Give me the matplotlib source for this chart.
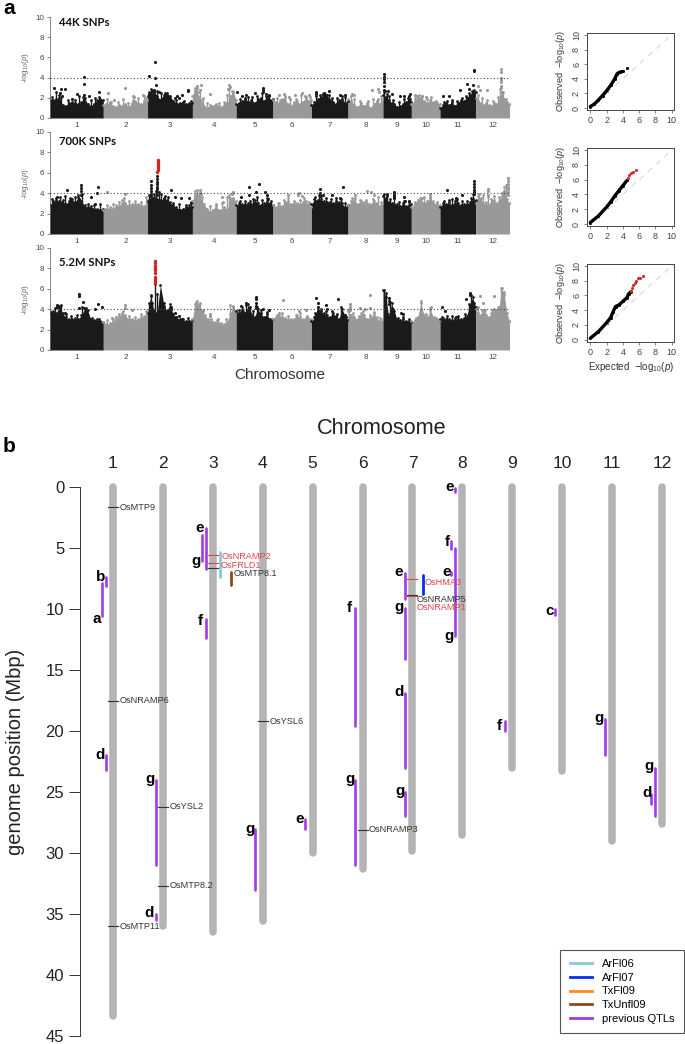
import numpy as np
import matplotlib
matplotlib.use("Agg")
import matplotlib.pyplot as plt
from matplotlib.lines import Line2D

plt.rcParams['font.family'] = ['Liberation Sans', 'DejaVu Sans']
plt.rcParams['mathtext.fontset'] = 'custom'
plt.rcParams['mathtext.rm'] = 'Liberation Sans'
plt.rcParams['mathtext.it'] = 'Liberation Sans:italic'

W, H = 685, 1044

chrom_names = ['1', '2', '3', '4', '5', '6', '7', '8', '9', '10', '11', '12']
chrom_len = [43.4, 36.0, 36.5, 35.6, 30.0, 31.3, 29.8, 28.5, 23.0, 23.3, 29.0, 27.6]

panel_titles = ['44K SNPs', '700K SNPs', '5.2M SNPs']
title_heights = [9.5, 9.1, 8.6]

# upper edge of the dense part of each chromosome, left to right
sky_44k = [
    [1.8, 1.8, 1.9, 2.0, 1.3, 1.2, 1.5, 1.6, 1.5, 1.4, 1.6, 2.0, 1.4, 1.2, 1.4, 1.8, 1.9, 1.8],
    [1.3, 1.4, 1.6, 1.2, 1.1, 1.3, 1.2, 1.4, 1.1, 1.5, 1.7, 1.5, 1.4, 1.7, 1.8],
    [2.2, 2.4, 2.6, 2.2, 1.8, 2.3, 2.5, 2.2, 1.7, 1.5, 1.5, 1.6, 1.4, 1.5, 1.5],
    [2.2, 3.0, 2.2, 1.8, 1.2, 1.0, 1.3, 1.2, 1.4, 1.2, 1.1, 1.6, 1.5, 2.2, 2.6, 1.8],
    [1.4, 1.5, 1.7, 1.9, 1.6, 1.8, 1.5, 1.9, 2.0, 1.7, 2.1, 1.8, 1.9],
    [1.8, 1.6, 1.5, 1.9, 2.0, 1.4, 1.2, 1.6, 1.7, 1.4, 1.6, 2.0, 1.7, 1.8],
    [1.3, 1.6, 1.9, 2.1, 2.2, 2.3, 1.8, 1.6, 1.4, 1.8, 1.9, 1.5, 1.7],
    [1.9, 1.7, 1.3, 1.1, 1.5, 1.2, 1.5, 1.0, 1.4, 1.7, 1.4, 1.9],
    [2.3, 2.1, 1.8, 1.5, 1.4, 1.1, 1.2, 1.4, 1.6, 1.8, 1.6],
    [1.4, 1.7, 2.1, 2.0, 1.7, 1.5, 1.8, 1.6, 1.5, 1.4],
    [1.0, 1.3, 1.5, 1.3, 1.6, 1.2, 1.5, 1.8, 1.7, 2.0, 2.3, 2.6, 2.6],
    [2.0, 1.7, 1.5, 1.3, 1.5, 1.3, 1.2, 1.5, 1.4, 1.8, 2.6, 1.9, 1.6, 1.4],
]
sky_700k = [
    [2.8, 3.2, 3.3, 3.2, 3.3, 2.9, 3.2, 3.4, 3.1, 3.6, 3.2, 2.8, 2.6, 2.7, 2.5, 2.5, 2.4, 2.5],
    [2.4, 2.5, 2.6, 2.5, 2.8, 2.7, 3.3, 3.0, 2.8, 2.9, 2.9, 2.9, 2.8, 2.7, 3.3],
    [3.2, 3.6, 3.6, 3.4, 3.3, 3.5, 3.3, 3.1, 2.8, 2.6, 2.4, 2.5, 2.6, 2.8, 2.6],
    [3.2, 4.2, 3.6, 3.3, 2.9, 2.5, 2.2, 2.4, 2.7, 2.4, 2.4, 2.6, 2.4, 3.5, 3.4, 3.2],
    [2.8, 3.0, 2.9, 2.9, 3.0, 2.9, 3.3, 3.0, 2.8, 3.0, 3.2, 3.0, 2.8],
    [2.8, 2.6, 3.0, 2.7, 3.1, 3.2, 2.9, 3.0, 3.0, 2.9, 3.1, 3.2, 2.9, 2.6],
    [2.9, 3.4, 3.3, 3.4, 3.2, 3.1, 3.1, 3.0, 3.2, 3.1, 3.0, 2.6, 2.8],
    [2.8, 3.2, 3.3, 2.9, 3.2, 3.1, 3.0, 2.9, 3.2, 3.0, 2.7, 3.0],
    [3.7, 3.5, 3.1, 3.0, 2.9, 2.9, 2.7, 3.0, 2.7, 2.8, 2.9],
    [2.6, 3.0, 3.3, 3.4, 3.0, 3.2, 3.6, 2.9, 3.0, 2.8],
    [2.6, 3.0, 2.9, 3.1, 2.8, 3.2, 3.0, 2.8, 2.9, 2.9, 3.1, 3.4, 3.3],
    [3.0, 3.7, 3.5, 3.0, 3.1, 2.8, 3.4, 3.3, 3.0, 3.2, 4.0, 4.6, 3.4, 3.0],
]
sky_52m = [
    [3.6, 3.8, 3.6, 4.3, 3.6, 3.2, 3.0, 3.0, 3.1, 3.0, 3.4, 4.0, 3.9, 3.0, 2.9, 3.0, 2.8, 2.7],
    [2.7, 2.5, 2.6, 2.8, 3.0, 3.3, 3.6, 3.4, 3.0, 3.0, 2.9, 3.0, 3.2, 3.3, 3.6],
    [3.6, 5.3, 3.8, 3.6, 6.4, 4.6, 3.8, 4.5, 3.5, 3.2, 3.0, 3.0, 2.8, 2.8, 2.9],
    [3.0, 4.7, 4.5, 3.8, 3.4, 3.0, 2.8, 2.7, 2.9, 2.6, 2.5, 2.7, 3.5, 4.3, 3.8],
    [3.8, 3.6, 4.2, 3.6, 4.5, 3.5, 3.2, 4.0, 3.6, 3.2, 3.5, 3.0, 3.0],
    [3.0, 3.2, 3.4, 3.2, 3.1, 3.0, 3.0, 3.0, 3.4, 3.2, 3.0, 3.1, 3.1, 3.0],
    [2.8, 3.2, 4.2, 3.8, 3.6, 3.4, 3.2, 3.6, 3.3, 3.0, 4.0, 3.4, 2.9],
    [3.8, 3.4, 3.2, 3.0, 3.6, 3.4, 3.0, 3.2, 3.5, 3.2, 2.8, 3.0],
    [5.9, 5.2, 3.2, 4.6, 3.8, 2.9, 2.9, 3.0, 2.8, 2.8, 2.7],
    [2.8, 2.9, 3.2, 4.6, 3.4, 3.2, 3.9, 3.2, 3.0, 2.9],
    [3.0, 3.1, 3.0, 3.0, 2.9, 3.1, 3.0, 3.0, 3.1, 3.3, 4.4, 5.2, 4.2],
    [4.0, 3.6, 3.4, 3.8, 3.4, 3.2, 3.6, 4.0, 3.9, 4.2, 6.1, 5.4, 3.6, 2.8],
]

# narrow columns that stick out of the dense part: chromosome, Mbp, height
spike_44k = [
    (1, 2, 2.1), (1, 5, 2.6), (1, 7, 2.3), (1, 9, 2.1), (1, 15, 1.8), (1, 20, 1.8), (1, 24, 2.2), (1, 27, 2.1),
    (1, 33, 1.8), (1, 37, 2.0), (1, 40, 2.1),
    (2, 3, 1.9), (2, 6, 1.6), (2, 12, 1.6), (2, 16, 1.9), (2, 20, 1.5), (2, 24, 1.8), (2, 28, 2.0), (2, 33, 2.2),
    (2, 35, 2.0),
    (3, 1, 2.6), (3, 3, 2.9), (3, 5, 2.6), (3, 8, 2.7), (3, 11, 2.5), (3, 14, 2.5), (3, 18, 2.0), (3, 23, 1.8),
    (3, 30, 1.7), (3, 35, 1.7),
    (4, 2, 2.8), (4, 4, 3.0), (4, 6, 2.8), (4, 9, 2.0), (4, 12, 1.5), (4, 22, 1.5), (4, 28, 2.3), (4, 30, 2.9),
    (4, 32, 2.7),
    (5, 3, 1.9), (5, 7, 2.0), (5, 10, 2.1), (5, 13, 2.1), (5, 17, 2.2), (5, 21, 2.5), (5, 24, 2.2), (5, 27, 2.2),
    (6, 3, 2.0), (6, 6, 1.8), (6, 10, 2.2), (6, 14, 1.9), (6, 19, 1.9), (6, 23, 2.3), (6, 27, 2.1), (6, 30, 2.1),
    (7, 4, 2.2), (7, 7, 2.3), (7, 9, 2.4), (7, 11, 2.4), (7, 14, 2.3), (7, 17, 2.0), (7, 21, 2.0), (7, 25, 2.2),
    (7, 27, 2.1),
    (8, 2, 2.2), (8, 5, 1.9), (8, 10, 1.7), (8, 16, 1.7), (8, 20, 1.9), (8, 24, 1.9), (8, 27, 2.2),
    (9, 1, 2.6), (9, 3, 2.4), (9, 5, 2.2), (9, 8, 1.8), (9, 13, 1.6), (9, 17, 1.9), (9, 20, 2.0), (9, 22, 1.9),
    (10, 3, 2.0), (10, 6, 2.3), (10, 9, 2.2), (10, 13, 1.9), (10, 16, 2.1), (10, 20, 1.7),
    (11, 3, 1.6), (11, 6, 1.7), (11, 10, 1.8), (11, 14, 1.7), (11, 18, 2.0), (11, 21, 2.2), (11, 24, 2.5),
    (11, 26, 2.7), (11, 28, 2.8),
    (12, 2, 2.3), (12, 5, 2.0), (12, 9, 1.8), (12, 14, 1.7), (12, 18, 2.1), (12, 20, 2.9), (12, 22, 2.6),
    (12, 25, 1.9),
]
spike_700k = [
    (1, 2, 3.4), (1, 5, 3.5), (1, 8, 3.6), (1, 12, 3.7), (1, 16, 3.5), (1, 20, 3.6), (1, 23, 3.8), (1, 26, 3.9),
    (1, 31, 2.9), (1, 36, 2.8), (1, 41, 2.9),
    (2, 3, 2.8), (2, 8, 2.9), (2, 13, 3.1), (2, 17, 3.5), (2, 21, 3.2), (2, 26, 3.2), (2, 31, 3.1), (2, 35, 3.6),
    (3, 1, 3.8), (3, 3, 4.0), (3, 5, 3.9), (3, 7, 4.2), (3, 9, 4.1), (3, 11, 3.9), (3, 14, 3.7), (3, 17, 3.6),
    (3, 21, 3.0), (3, 26, 2.9), (3, 31, 2.8), (3, 35, 3.1),
    (4, 2, 3.8), (4, 4, 4.3), (4, 6, 4.1), (4, 8, 3.6), (4, 14, 2.7), (4, 19, 2.9), (4, 24, 3.0), (4, 28, 3.6),
    (4, 30, 3.8), (4, 33, 3.5),
    (5, 3, 3.2), (5, 7, 3.2), (5, 11, 3.2), (5, 14, 3.4), (5, 17, 3.6), (5, 21, 3.3), (5, 25, 3.5), (5, 28, 3.2),
    (6, 4, 3.0), (6, 9, 3.3), (6, 12, 3.5), (6, 17, 3.2), (6, 22, 3.3), (6, 25, 3.5), (6, 29, 3.1),
    (7, 3, 3.6), (7, 6, 3.8), (7, 8, 3.7), (7, 12, 3.5), (7, 16, 3.4), (7, 20, 3.5), (7, 24, 3.4), (7, 27, 3.0),
    (8, 3, 3.5), (8, 6, 3.5), (8, 10, 3.3), (8, 15, 3.3), (8, 20, 3.4), (8, 24, 3.6), (8, 27, 3.1),
    (9, 1, 3.9), (9, 3, 3.7), (9, 6, 3.4), (9, 9, 3.6), (9, 13, 3.1), (9, 17, 3.2), (9, 21, 3.1),
    (10, 3, 3.1), (10, 7, 3.5), (10, 10, 3.6), (10, 15, 3.9), (10, 18, 3.2), (10, 21, 3.1),
    (11, 3, 3.2), (11, 7, 3.3), (11, 10, 3.4), (11, 14, 3.4), (11, 18, 3.2), (11, 22, 3.2), (11, 25, 3.5),
    (11, 27, 3.9),
    (12, 3, 3.9), (12, 6, 3.8), (12, 10, 3.6), (12, 15, 3.7), (12, 19, 3.6), (12, 23, 4.2), (12, 25, 4.8),
]
spike_52m = [
    (1, 1, 3.7), (1, 4, 4.1), (1, 7, 4.2), (1, 9, 4.4), (1, 13, 3.5), (1, 17, 3.3), (1, 22, 3.4), (1, 26, 4.2),
    (1, 29, 4.1), (1, 34, 3.1), (1, 40, 3.0),
    (2, 3, 2.9), (2, 8, 3.0), (2, 13, 3.5), (2, 16, 3.8), (2, 21, 3.3), (2, 26, 3.2), (2, 31, 3.5), (2, 35, 3.8),
    (3, 1, 4.6), (3, 2.5, 5.4), (3, 4, 4.6), (3, 6, 6.5), (3, 8, 5.5), (3, 11, 4.5), (3, 13, 4.3), (3, 18, 3.7),
    (3, 23, 3.2), (3, 28, 3.0), (3, 33, 3.1),
    (4, 2, 4.5), (4, 3.5, 4.8), (4, 6, 4.6), (4, 9, 3.9), (4, 15, 3.0), (4, 21, 3.0), (4, 27, 3.0), (4, 31, 4.4),
    (4, 33, 4.2),
    (5, 2, 3.9), (5, 5, 3.8), (5, 8, 4.4), (5, 11, 4.2), (5, 14, 3.8), (5, 17, 4.2), (5, 20, 3.9), (5, 25, 3.7),
    (6, 3, 3.4), (6, 7, 3.6), (6, 12, 3.3), (6, 19, 3.4), (6, 22, 3.6), (6, 28, 3.3),
    (7, 3, 3.6), (7, 5, 4.2), (7, 8, 4.0), (7, 12, 3.8), (7, 17, 3.8), (7, 21, 3.5), (7, 24, 4.2), (7, 27, 3.4),
    (8, 1, 4.0), (8, 4, 3.6), (8, 9, 3.3), (8, 12, 3.8), (8, 18, 3.4), (8, 21, 3.7), (8, 26, 3.1),
    (9, 0.8, 5.9), (9, 2, 5.6), (9, 4, 3.5), (9, 6, 4.7), (9, 8, 4.0), (9, 12, 3.1), (9, 16, 3.2), (9, 21, 3.0),
    (10, 4, 3.1), (10, 7, 3.6), (10, 8, 4.8), (10, 12, 3.5), (10, 15, 4.1), (10, 20, 3.1),
    (11, 2, 3.2), (11, 6, 3.3), (11, 10, 3.3), (11, 15, 3.3), (11, 20, 3.5), (11, 24, 4.5), (11, 25.5, 5.4),
    (11, 27.5, 4.6),
    (12, 2, 4.2), (12, 5, 3.9), (12, 8, 3.9), (12, 13, 3.9), (12, 18, 4.2), (12, 21, 6.1), (12, 23, 5.7),
]

# separate SNPs above the dense part: chromosome, Mbp, -log10(p)
pts_44k = [
    (1, 3.4, 3.0), (1, 9, 2.9), (1, 12, 2.9), (1, 8, 2.5), (1, 10, 2.2), (1, 22, 2.4), (1, 28, 4.05),
    (1, 28, 3.4), (1, 28, 2.3), (1, 39.5, 2.6), (1, 18, 1.9), (1, 32, 2.2),
    (2, 4, 2.5), (2, 17.5, 3.0), (2, 25, 2.1), (2, 24, 2.2), (2, 9, 1.8), (2, 32, 2.3),
    (3, 1, 4.2), (3, 6, 5.5), (3, 6, 4.0), (3, 7, 3.3), (3, 5, 2.8), (3, 4, 2.7), (3, 1, 2.4), (3, 9, 2.6),
    (3, 22, 2.0), (3, 26, 2.0), (3, 28, 2.3), (3, 24, 2.2), (3, 33, 2.7), (3, 33, 2.8),
    (4, 3, 2.9), (4, 4, 3.2), (4, 7, 3.3), (4, 6, 2.8), (4, 5, 2.6), (4, 14, 2.4), (4, 30, 3.3),
    (4, 31, 3.1), (4, 29, 2.9), (4, 33, 2.6),
    (5, 1, 2.6), (5, 5, 2.2), (5, 8, 2.3), (5, 15, 2.5), (5, 22, 3.0), (5, 22, 2.8), (5, 22, 2.6),
    (5, 24, 2.4), (5, 27, 2.3),
    (6, 5, 2.3), (6, 9, 2.4), (6, 13, 2.1), (6, 18, 2.3), (6, 24, 2.5), (6, 26, 2.2), (6, 29, 2.3),
    (7, 4, 2.6), (7, 4, 2.4), (7, 10, 2.5), (7, 14, 2.7), (7, 9, 2.4), (7, 27, 2.3), (7, 23, 2.3),
    (8, 3, 2.4), (8, 5, 2.3), (8, 19.5, 2.8), (8, 25, 2.6), (8, 24, 2.9),
    (9, 0.7, 4.4), (9, 0.7, 4.1), (9, 0.7, 3.9), (9, 0.7, 3.6), (9, 0.7, 3.2), (9, 0.7, 2.8), (9, 1.5, 2.7),
    (9, 4, 2.7), (9, 7, 2.4), (9, 14, 2.2), (9, 17, 2.2), (9, 22, 2.4), (9, 21, 2.2),
    (10, 3, 2.3), (10, 5, 2.2), (10, 9, 2.2), (10, 12, 2.1),
    (11, 2.2, 2.2), (11, 7.3, 2.2), (11, 16.7, 2.8), (11, 22.4, 3.4), (11, 27, 3.3), (11, 27.5, 4.8),
    (11, 27.5, 4.7), (11, 24, 2.9),
    (12, 21, 4.9), (12, 21, 4.6), (12, 21, 4.0), (12, 21, 3.8), (12, 21, 3.6), (12, 21, 3.2), (12, 21, 3.0),
    (12, 21, 2.6), (12, 3.5, 2.8), (12, 9, 2.8), (12, 2, 3.2),
]
pts_700k = [
    (1, 13.5, 4.3), (1, 25, 4.8), (1, 25, 4.5), (1, 25, 4.2), (1, 25, 3.8), (1, 24, 3.4), (1, 39, 4.6),
    (1, 38, 4.0), (1, 37, 2.9), (1, 33, 3.6), (1, 17, 3.4), (1, 6, 3.6),
    (2, 3, 4.1), (2, 18, 3.9),
    (3, 2.6, 5.2), (3, 2.6, 4.8), (3, 2.6, 4.5), (3, 2.6, 4.2), (3, 2.6, 3.8),
    (3, 7.5, 5.7), (3, 7.5, 5.4), (3, 7.5, 5.1), (3, 7.5, 4.9), (3, 7.5, 4.6), (3, 7.5, 4.4), (3, 7.5, 4.1),
    (3, 7.5, 3.8), (3, 19, 4.3), (3, 22, 3.6), (3, 27.5, 3.5), (3, 34, 3.5), (3, 35, 3.0),
    (4, 6, 4.3), (4, 6, 4.0), (4, 5, 3.8), (4, 7, 3.9), (4, 24, 3.6), (4, 25, 3.1), (4, 33, 4.1), (4, 32, 3.9),
    (5, 4, 3.6), (5, 10.5, 4.6), (5, 10.5, 3.8), (5, 16.5, 4.1), (5, 18.5, 4.9), (5, 23.5, 4.1), (5, 25, 3.8),
    (5, 26, 3.4),
    (6, 12, 3.8), (6, 21.5, 4.0), (6, 20.5, 3.8), (6, 24, 3.7),
    (7, 7.3, 4.4), (7, 7, 4.0), (7, 9, 3.8), (7, 7.3, 3.7), (7, 17, 3.8), (7, 26, 4.6), (7, 23, 3.5),
    (8, 6, 3.8), (8, 15.5, 4.2), (8, 19, 4.1), (8, 21.5, 3.8),
    (9, 3.5, 3.9), (9, 9, 4.1), (9, 9, 3.9), (9, 9, 3.7), (9, 9, 3.5), (9, 17, 3.6), (9, 18, 3.2), (9, 21, 3.2),
    (10, 15, 3.9), (10, 15, 3.6), (10, 15, 3.3), (10, 9, 3.5),
    (11, 6, 4.3), (11, 13, 3.5), (11, 13, 3.3), (11, 18, 3.8), (11, 27.5, 5.2), (11, 27.5, 4.9),
    (11, 27.5, 4.6), (11, 27.5, 4.3), (11, 27.5, 4.1), (11, 27.5, 3.9),
    (12, 10, 4.4), (12, 10, 4.2), (12, 10, 3.8), (12, 26.5, 5.5), (12, 26.5, 5.2), (12, 26.5, 4.9),
    (12, 26.5, 4.6), (12, 26.5, 4.4), (12, 26.5, 4.1), (12, 26.5, 3.8),
]
pts_52m = [
    (1, 5.4, 4.4), (1, 5.4, 4.2), (1, 8, 4.1), (1, 12, 3.6), (1, 24, 5.5), (1, 24, 5.3), (1, 27, 4.7),
    (1, 24, 4.1), (1, 28, 4.1), (1, 37, 4.0), (1, 38.7, 4.5), (1, 42.7, 4.2),
    (2, 17.5, 4.4), (2, 18, 4.1), (2, 23, 3.9), (2, 10, 3.2), (2, 6.7, 3.1),
    (3, 11.3, 4.6), (3, 19.4, 4.2), (3, 19.4, 4.0), (3, 17, 3.8), (3, 22, 3.6), (3, 26, 3.3), (3, 28, 3.0),
    (4, 14, 3.3), (4, 14, 3.5), (4, 9, 3.8),
    (5, 3.6, 4.3), (5, 8.2, 4.6), (5, 16, 5.2), (5, 16, 5.0), (5, 16, 4.6), (5, 16, 4.3), (5, 16, 4.1),
    (5, 21.7, 4.0), (5, 26.6, 3.9),
    (6, 8.5, 4.9), (6, 21.5, 3.8), (6, 27, 3.9), (6, 5, 3.6),
    (7, 3.8, 5.1), (7, 5.7, 4.6), (7, 12, 4.4), (7, 13, 4.0), (7, 22, 5.0), (7, 28.5, 3.2),
    (8, 1.6, 4.5), (8, 1.6, 4.2), (8, 1.6, 3.9), (8, 18, 5.4), (8, 10, 4.1), (8, 14, 4.0), (8, 18, 4.1),
    (9, 5, 5.1), (9, 5, 4.8), (9, 5, 4.5), (9, 9, 3.4), (9, 14.6, 3.6), (9, 16, 3.5),
    (10, 16, 4.2),
    (11, 2, 4.2), (11, 4, 3.8), (11, 13, 3.2), (11, 21, 5.0), (11, 24.5, 5.6), (11, 24.5, 5.4),
    (12, 3.5, 5.3), (12, 6, 4.6), (12, 15, 5.3),
]
red_700k = [(3, 8, 6.1), (3, 8.2, 6.3), (3, 8.4, 6.5), (3, 8.6, 6.7), (3, 8.6, 6.9), (3, 8.7, 7.1), (3, 8.7, 7.3)]
red_52m = [(3, 5.9, 6.6), (3, 5.9, 6.8), (3, 5.9, 7.0), (3, 5.9, 7.2), (3, 5.9, 7.5), (3, 5.9, 7.8),
           (3, 5.9, 8.0), (3, 5.9, 8.2), (3, 5.9, 8.5), (3, 5.9, 8.7)]
threshold = 4

# QQ curves: expected, observed
qq_exp_44k = [0, 0.5, 1, 1.5, 2, 2.5, 3, 3.3, 3.6, 4.0]
qq_obs_44k = [0.2, 0.55, 1.1, 1.7, 2.35, 3.1, 4.0, 4.7, 4.9, 5.0]
qq_red_exp_44k = []
qq_red_obs_44k = []
qq_tail_exp_44k = [4.5]
qq_tail_obs_44k = [5.5]
qq_exp_700k = [0, 1, 2, 2.5, 3, 3.5, 4, 4.5]
qq_obs_700k = [0.2, 1.1, 2.3, 3.0, 3.8, 4.5, 5.2, 5.9]
qq_red_exp_700k = [4.6, 4.8, 5.0, 5.3, 5.6]
qq_red_obs_700k = [6.2, 6.6, 6.9, 7.1, 7.3]
qq_exp_52m = [0, 1, 2, 2.5, 2.8, 3.1, 3.5, 4, 4.5, 4.7, 5]
qq_obs_52m = [0.2, 1.1, 2.3, 3.0, 3.8, 4.5, 4.7, 5.2, 5.7, 6.2, 6.5]
qq_red_exp_52m = [5, 5.15, 5.3, 5.45, 5.6, 5.9, 6.1, 6.5]
qq_red_obs_52m = [6.6, 7.0, 7.4, 7.7, 8, 8.3, 8.4, 8.7]

# panel b, QTL segments
qtl_chrom = [1, 1, 1, 2, 2, 3, 3, 3, 4, 5, 6, 6, 7, 7, 7, 7, 8, 8, 8, 8, 9, 10, 11, 12, 12]
qtl_track = [1, 2, 1, 1, 1, 1, 2, 1, 1, 1, 1, 1, 1, 1, 1, 1, 1, 2, 1, 2, 1, 1, 1, 1, 2]
qtl_start = [7.4, 7.9, 22.0, 24.0, 35.0, 3.4, 3.9, 10.8, 28.0, 27.2, 9.9, 24.0, 7.05, 9.95, 16.9, 25.0,
             0.1, 4.45, 5.0, 7.0, 19.2, 10.0, 19.0, 23.0, 25.2]
qtl_end = [8.1, 10.6, 23.2, 31.0, 35.5, 6.7, 6.1, 12.4, 33.0, 28.0, 19.6, 31.0, 9.2, 14.1, 23.0, 27.0,
           0.4, 5.1, 12.2, 7.2, 20.0, 10.5, 22.0, 27.0, 26.0]

# letters beside the QTLs: text, chromosome column, Mbp
letter_text = ['b', 'a', 'd', 'g', 'd', 'e', 'g', 'f', 'g', 'e', 'f', 'g', 'e', 'g', 'd', 'g',
               'e', 'f', 'e', 'g', 'f', 'c', 'g', 'g', 'd']
letter_x = [0.75, 0.68, 0.75, 1.75, 1.73, 2.73, 2.67, 2.74, 3.74, 4.74, 5.73, 5.75, 6.72, 6.73, 6.73, 6.75,
            7.74, 7.70, 7.69, 7.74, 8.74, 9.74, 10.74, 11.74, 11.70]
letter_y = [7.4, 10.8, 22.0, 23.9, 34.9, 3.4, 6.1, 11.0, 28.0, 27.2, 9.9, 23.9, 7.0, 9.8, 16.8, 24.9,
            0.0, 4.5, 7.0, 12.2, 19.6, 10.2, 18.9, 22.9, 25.1]

# candidate genes: tick position and where the name sits
gene_names = ['OsMTP9', 'OsNRAMP6', 'OsMTP11', 'OsYSL2', 'OsMTP8.2', 'OsNRAMP2', 'OsFRLD1', 'OsMTP8.1',
              'OsYSL6', 'OsNRAMP3', 'OsHMA3', 'OsNRAMP5', 'OsNRAMP1']
gene_chrom = [1, 1, 1, 2, 2, 3, 3, 3, 4, 6, 7, 7, 7]
gene_pos = [1.65, 17.5, 36.0, 26.2, 32.7, 5.6, 6.2, 6.6, 19.2, 28.1, 7.5, 8.85, 8.95]
gene_label_x = [1.13, 1.13, 1.13, 2.13, 2.13, 3.18, 3.16, 3.41, 4.13, 6.13, 7.25, 7.09, 7.09]
gene_label_y = [1.65, 17.5, 36.0, 26.2, 32.7, 5.66, 6.45, 7.1, 19.2, 28.1, 7.8, 9.23, 9.9]
gene_red = [0, 0, 0, 0, 0, 1, 1, 0, 0, 0, 1, 0, 1]

# mapping intervals coloured by population
map_names = ['ArFl06', 'ArFl07', 'TxFl09', 'TxUnfl09', 'previous QTLs']
map_col = [0, 1, 3]
map_x = [3.15, 7.22, 3.36]
map_start = [5.3, 7.2, 6.98]
map_end = [7.35, 8.75, 8.0]

map_colors = ['#86ccd6', '#0a2cf0', '#ff8c1a', '#8b4a1f', '#a03ce6']
PURPLE = map_colors[4]
RED = '#d9474a'


def px_axes(fig, x0, y0, x1, y1):
    return fig.add_axes([x0 / W, 1 - y1 / H, (x1 - x0) / W, (y1 - y0) / H])


def manhattan(ax, sky, spikes, pts, red, title, title_y, last):
    starts = np.concatenate([[0], np.cumsum(chrom_len)[:-1]])
    for i, heights in enumerate(sky):
        col = '#1a1a1a' if i % 2 == 0 else '#999999'
        x = starts[i] + np.linspace(0, chrom_len[i], len(heights))
        ax.fill_between(x, 0, heights, color=col, lw=0)
        ax.scatter(x, heights, s=4, color=col, lw=0, zorder=2)
        chrom_spikes = [p for p in spikes if p[0] == i + 1]
        if chrom_spikes:
            arr = np.array(chrom_spikes)
            ax.vlines(starts[i] + arr[:, 1], 0, arr[:, 2], color=col, lw=1.0, zorder=2)
            ax.scatter(starts[i] + arr[:, 1], arr[:, 2], s=4, color=col, lw=0, zorder=2)
        chrom_pts = [p for p in pts if p[0] == i + 1]
        if chrom_pts:
            arr = np.array(chrom_pts)
            ax.scatter(starts[i] + arr[:, 1], arr[:, 2], s=5, color=col, lw=0, zorder=3)
    if red:
        arr = np.array(red)
        ax.scatter(starts[arr[:, 0].astype(int) - 1] + arr[:, 1], arr[:, 2], s=6, color='#d62020', lw=0, zorder=4)
    ax.axhline(threshold, color='#3a3f73', lw=0.8, ls=(0, (1, 2)), zorder=5)
    ax.set_xlim(0, sum(chrom_len))
    ax.set_ylim(0, 10)
    ax.set_yticks([0, 2, 4, 6, 8, 10])
    ax.set_xticks(starts + np.array(chrom_len) / 2)
    ax.set_xticklabels(chrom_names)
    ax.tick_params(axis='x', length=0, pad=3, labelsize=5.8, labelcolor='#444444')
    ax.tick_params(axis='y', length=2.5, width=0.5, pad=1.5, labelsize=5.8, labelcolor='#444444', color='#555555')
    for s in ['top', 'right', 'bottom']:
        ax.spines[s].set_visible(False)
    ax.spines['left'].set_linewidth(0.5)
    ax.spines['left'].set_color('#555555')
    ax.set_ylabel(r'-log$_{10}$($\mathit{p}$)', fontsize=5.8, color='#666666', labelpad=3)
    ax.text(7, title_y, title, fontsize=8.2, fontweight='bold', family='Lato', va='center', color='#111111')
    if last:
        ax.set_xlabel('Chromosome', fontsize=11, color='#333333', labelpad=5)


def qq(ax, ex, ob, red_ex, red_ob, tail_ex=(), tail_ob=(), last=False):
    ax.plot([-1, 11], [-1, 11], color='#d4d8dc', lw=0.8, ls=(0, (5, 5)))
    ax.plot(ex, ob, color='black', lw=2.4, solid_capstyle='round')
    ax.scatter(ex, ob, s=5, color='black', lw=0)
    if len(tail_ex):
        ax.scatter(tail_ex, tail_ob, s=5, color='black', lw=0)
    if len(red_ex):
        ax.scatter(red_ex, red_ob, s=5, color='#c9302c', lw=0, zorder=3)
    ax.set_xlim(-0.37, 10.32)
    ax.set_ylim(-0.27, 10.3)
    ax.set_xticks([0, 2, 4, 6, 8, 10])
    ax.set_yticks([0, 2, 4, 6, 8, 10])
    ax.tick_params(length=2.5, width=0.5, labelsize=6.5, pad=2, labelcolor='#444444', color='#555555')
    plt.setp(ax.get_yticklabels(), rotation=90, va='center')
    for s in ax.spines.values():
        s.set_linewidth(0.7)
        s.set_color('#444444')
    ax.set_ylabel(r'Observed  $-$log$_{10}$($\mathit{p}$)', fontsize=6.6, color='#333333', labelpad=3.5)
    if last:
        ax.set_xlabel(r'Expected  $-$log$_{10}$($\mathit{p}$)', fontsize=7, color='#333333', labelpad=2)


fig = plt.figure(figsize=(W / 100, H / 100), dpi=100)

manhattan(px_axes(fig, 50, 17, 509.5, 118), sky_44k, spike_44k, pts_44k, [], panel_titles[0], title_heights[0], False)
manhattan(px_axes(fig, 50, 132, 509.5, 234), sky_700k, spike_700k, pts_700k, red_700k, panel_titles[1],
          title_heights[1], False)
manhattan(px_axes(fig, 50, 248, 509.5, 350), sky_52m, spike_52m, pts_52m, red_52m, panel_titles[2],
          title_heights[2], True)

qq(px_axes(fig, 587.3, 32.7, 674.3, 110), qq_exp_44k, qq_obs_44k, qq_red_exp_44k, qq_red_obs_44k,
   qq_tail_exp_44k, qq_tail_obs_44k)
qq(px_axes(fig, 587.3, 148, 674.3, 226), qq_exp_700k, qq_obs_700k, qq_red_exp_700k, qq_red_obs_700k)
qq(px_axes(fig, 587.3, 263.7, 674.3, 341.7), qq_exp_52m, qq_obs_52m, qq_red_exp_52m, qq_red_obs_52m, last=True)

fig.text(3 / W, 1 - 9 / H, 'a', fontsize=15, fontweight='bold', va='center')
fig.text(3 / W, 1 - 446 / H, 'b', fontsize=15, fontweight='bold', va='center')

# panel b
axb = px_axes(fig, 79.5, 487, 680, 1036)
axb.set_xlim(0.329, 12.36)
axb.set_ylim(45, 0)
for i, length in enumerate(chrom_len):
    axb.plot([i + 1, i + 1], [0, length], color='#b4b4b4', lw=5.4, solid_capstyle='round', clip_on=False, zorder=1)
    axb.text(i + 1, -1.95, chrom_names[i], fontsize=12.5, ha='center', va='center', color='#222222')

track_dx = {1: -0.145, 2: -0.225}
for c, t, a, b in zip(qtl_chrom, qtl_track, qtl_start, qtl_end):
    axb.plot([c + track_dx[t]] * 2, [a, b], color=PURPLE, lw=1.9, solid_capstyle='round', zorder=3)

for c, x, a, b in zip(map_col, map_x, map_start, map_end):
    axb.plot([x, x], [a, b], color=map_colors[c], lw=2.0, solid_capstyle='round', zorder=3)

for txt, x, y in zip(letter_text, letter_x, letter_y):
    axb.text(x, y, txt, fontsize=11, fontweight='bold', ha='center', va='center', color='black', zorder=5)

for name, c, p, lx, ly, r in zip(gene_names, gene_chrom, gene_pos, gene_label_x, gene_label_y, gene_red):
    col = RED if r else '#333333'
    axb.plot([c - 0.1, c + 0.1], [p, p], color=col, lw=0.8, zorder=4)
    axb.text(lx, ly, name, fontsize=6.6, color=col, va='center', ha='left', zorder=5)

axb.set_yticks(np.arange(0, 50, 5))
axb.set_xticks([])
axb.tick_params(axis='y', length=8, width=0.7, labelsize=12, pad=3, color='#333333', labelcolor='#222222')
for s in ['top', 'right', 'bottom']:
    axb.spines[s].set_visible(False)
axb.spines['left'].set_linewidth(0.7)
axb.spines['left'].set_color('#333333')
fig.text(16 / W, 1 - 752 / H, 'genome position (Mbp)', fontsize=14.5, rotation=90, ha='center', va='center',
         color='#222222')
fig.text(382 / W, 1 - 429 / H, 'Chromosome', fontsize=15.7, ha='center', va='center', color='#222222')

handles = [Line2D([0], [0], color=c, lw=2.0) for c in map_colors]
leg = axb.legend(handles, map_names, loc='lower right', bbox_to_anchor=(684 / W, 1 - 1033 / H),
                 bbox_transform=fig.transFigure, fontsize=8.0, frameon=True, fancybox=False, framealpha=1,
                 edgecolor='#555555', handlelength=2, handletextpad=0.9, labelspacing=0.32, borderpad=0.85,
                 borderaxespad=0)
leg.get_frame().set_linewidth(0.8)

fig.savefig('out.png', dpi=100)
